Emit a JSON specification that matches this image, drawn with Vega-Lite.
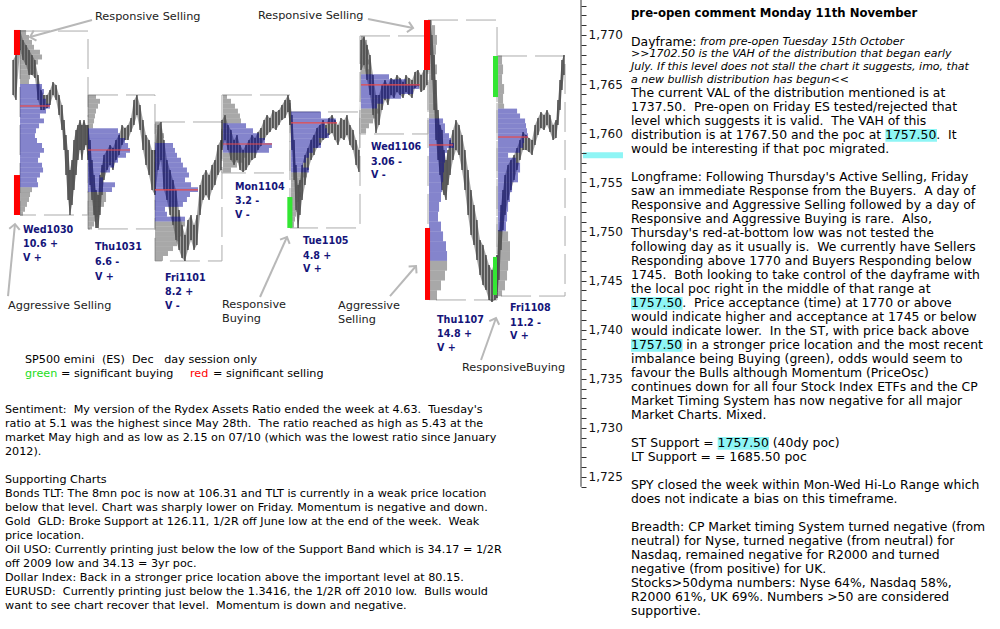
{
"$schema": "https://vega.github.io/schema/vega-lite/v6.json",
"width": 1000, "height": 629, "padding": 0, "autosize": {"type": "none"},
"background": "#ffffff",
"config": {"view": {"stroke": null}, "font": "DejaVu Sans"},
"datasets": {
"price": [
{"bar":-8.2,"lo":1763.89,"hi":1767.45},{"bar":-4.7,"lo":1763.38,"hi":1767.96},
{"bar":0,"lo":1768.47,"hi":1770.51},{"bar":3.5,"lo":1767.45,"hi":1769.49},{"bar":7.1,"lo":1766.94,"hi":1768.98},{"bar":10.6,"lo":1765.92,"hi":1768.47},{"bar":14.1,"lo":1765.92,"hi":1767.96},{"bar":17.6,"lo":1765.62,"hi":1767.45},{"bar":21.2,"lo":1763.38,"hi":1765.92},{"bar":24.7,"lo":1762.36,"hi":1764.40},{"bar":28.2,"lo":1762.36,"hi":1763.89},{"bar":31.8,"lo":1762.56,"hi":1763.89},{"bar":35.3,"lo":1762.87,"hi":1764.40},{"bar":38.8,"lo":1763.89,"hi":1765.21},{"bar":42.4,"lo":1763.38,"hi":1764.91},{"bar":45.9,"lo":1761.85,"hi":1763.89},{"bar":49.4,"lo":1760.32,"hi":1762.87},{"bar":51.8,"lo":1758.29,"hi":1761.34},{"bar":54.1,"lo":1755.74,"hi":1759.82},{"bar":56.5,"lo":1753.20,"hi":1758.29},{"bar":58.8,"lo":1751.67,"hi":1756.25},{"bar":61.2,"lo":1752.69,"hi":1757.27},{"bar":63.5,"lo":1754.22,"hi":1759.31},{"bar":65.9,"lo":1755.74,"hi":1760.32},{"bar":68.2,"lo":1757.27,"hi":1760.83},{"bar":70.6,"lo":1758.29,"hi":1761.34},{"bar":72.9,"lo":1757.27,"hi":1760.83},{"bar":75.3,"lo":1758.29,"hi":1761.34},{"bar":77.6,"lo":1758.80,"hi":1760.83},
{"bar":80,"lo":1757.27,"hi":1760.83},{"bar":82.4,"lo":1754.73,"hi":1759.31},{"bar":84.7,"lo":1753.20,"hi":1757.27},{"bar":87.1,"lo":1751.67,"hi":1755.74},{"bar":89.4,"lo":1750.35,"hi":1754.22},{"bar":91.8,"lo":1750.35,"hi":1753.71},{"bar":94.1,"lo":1751.67,"hi":1755.74},{"bar":96.5,"lo":1753.71,"hi":1756.76},{"bar":98.8,"lo":1755.23,"hi":1757.78},{"bar":102.4,"lo":1756.25,"hi":1758.29},{"bar":105.9,"lo":1756.76,"hi":1758.80},{"bar":109.4,"lo":1756.25,"hi":1758.49},{"bar":112.9,"lo":1757.27,"hi":1759.31},{"bar":116.5,"lo":1757.78,"hi":1759.82},{"bar":120,"lo":1758.80,"hi":1760.83},{"bar":123.5,"lo":1759.31,"hi":1760.53},{"bar":127.1,"lo":1759.31,"hi":1760.83},{"bar":130.6,"lo":1760.12,"hi":1761.55},{"bar":134.1,"lo":1760.83,"hi":1763.38},{"bar":137.6,"lo":1761.85,"hi":1763.89},{"bar":141.2,"lo":1760.32,"hi":1762.87},{"bar":144.7,"lo":1758.29,"hi":1761.34},{"bar":148.2,"lo":1756.76,"hi":1759.82},{"bar":151.8,"lo":1755.74,"hi":1759.31},{"bar":155.3,"lo":1754.22,"hi":1758.29},
{"bar":158.8,"lo":1753.71,"hi":1758.29},{"bar":162.4,"lo":1756.25,"hi":1760.83},{"bar":165.9,"lo":1757.27,"hi":1761.14},{"bar":169.4,"lo":1754.22,"hi":1759.31},{"bar":172.9,"lo":1753.20,"hi":1757.27},{"bar":176.5,"lo":1751.67,"hi":1756.25},{"bar":180,"lo":1750.65,"hi":1755.23},{"bar":183.5,"lo":1749.13,"hi":1754.22},{"bar":187.1,"lo":1748.11,"hi":1752.18},{"bar":190.6,"lo":1747.29,"hi":1750.65},{"bar":194.1,"lo":1746.99,"hi":1749.63},{"bar":197.6,"lo":1748.11,"hi":1751.16},{"bar":201.2,"lo":1749.13,"hi":1751.67},{"bar":204.7,"lo":1748.11,"hi":1750.65},{"bar":208.2,"lo":1748.62,"hi":1751.67},{"bar":211.8,"lo":1751.67,"hi":1754.73},{"bar":215.3,"lo":1753.20,"hi":1755.74},{"bar":218.8,"lo":1753.71,"hi":1756.25},{"bar":222.4,"lo":1753.20,"hi":1755.74},{"bar":225.9,"lo":1754.22,"hi":1756.76},{"bar":229.4,"lo":1754.73,"hi":1757.27},{"bar":232.9,"lo":1755.74,"hi":1758.80},{"bar":236.5,"lo":1756.25,"hi":1759.31},
{"bar":237.6,"lo":1758.29,"hi":1761.34},{"bar":241.2,"lo":1759.31,"hi":1761.85},{"bar":244.7,"lo":1758.29,"hi":1760.83},{"bar":248.2,"lo":1757.27,"hi":1760.32},{"bar":251.8,"lo":1756.76,"hi":1759.31},{"bar":255.3,"lo":1757.27,"hi":1759.82},{"bar":258.8,"lo":1756.25,"hi":1758.80},{"bar":262.4,"lo":1756.05,"hi":1758.29},{"bar":265.9,"lo":1756.25,"hi":1758.80},{"bar":269.4,"lo":1756.76,"hi":1759.31},{"bar":272.9,"lo":1757.27,"hi":1759.82},{"bar":276.5,"lo":1757.47,"hi":1759.51},{"bar":280,"lo":1758.29,"hi":1760.12},{"bar":283.5,"lo":1758.70,"hi":1760.53},{"bar":287.1,"lo":1759.31,"hi":1761.34},{"bar":290.6,"lo":1759.82,"hi":1761.85},{"bar":294.1,"lo":1760.12,"hi":1761.55},{"bar":297.6,"lo":1760.53,"hi":1762.36},{"bar":301.2,"lo":1760.32,"hi":1762.16},{"bar":304.7,"lo":1760.83,"hi":1762.36},{"bar":308.2,"lo":1761.34,"hi":1762.87},{"bar":311.8,"lo":1761.55,"hi":1763.38},{"bar":315.3,"lo":1762.16,"hi":1763.89},
{"bar":317.6,"lo":1760.83,"hi":1763.38},{"bar":320,"lo":1758.29,"hi":1761.85},{"bar":322.4,"lo":1755.23,"hi":1759.31},{"bar":324.7,"lo":1752.18,"hi":1756.76},{"bar":327.1,"lo":1750.35,"hi":1754.73},{"bar":329.4,"lo":1751.67,"hi":1755.23},{"bar":331.8,"lo":1753.20,"hi":1756.76},{"bar":335.3,"lo":1754.73,"hi":1757.78},{"bar":338.8,"lo":1756.25,"hi":1758.49},{"bar":342.4,"lo":1757.27,"hi":1759.31},{"bar":345.9,"lo":1757.78,"hi":1759.82},{"bar":349.4,"lo":1758.49,"hi":1760.53},{"bar":352.9,"lo":1758.80,"hi":1760.83},{"bar":356.5,"lo":1759.31,"hi":1761.34},{"bar":360,"lo":1759.51,"hi":1760.83},{"bar":363.5,"lo":1759.82,"hi":1761.55},{"bar":367.1,"lo":1760.02,"hi":1761.85},{"bar":370.6,"lo":1759.31,"hi":1761.34},{"bar":374.1,"lo":1758.80,"hi":1760.83},{"bar":377.6,"lo":1759.51,"hi":1761.55},{"bar":381.2,"lo":1759.31,"hi":1761.34},{"bar":384.7,"lo":1759.82,"hi":1761.85},{"bar":388.2,"lo":1758.80,"hi":1760.83},{"bar":391.8,"lo":1758.29,"hi":1760.32},{"bar":395.3,"lo":1756.76,"hi":1759.31},{"bar":398.8,"lo":1756.05,"hi":1758.29},
{"bar":401.2,"lo":1766.43,"hi":1769.49},{"bar":404.7,"lo":1766.94,"hi":1769.79},{"bar":408.2,"lo":1765.42,"hi":1768.98},{"bar":411.8,"lo":1763.89,"hi":1767.96},{"bar":415.3,"lo":1761.85,"hi":1765.92},{"bar":418.8,"lo":1760.02,"hi":1763.89},{"bar":422.4,"lo":1760.83,"hi":1763.89},{"bar":425.9,"lo":1762.36,"hi":1764.91},{"bar":429.4,"lo":1763.38,"hi":1765.42},{"bar":432.9,"lo":1762.87,"hi":1764.91},{"bar":436.5,"lo":1763.89,"hi":1765.62},{"bar":440,"lo":1763.58,"hi":1765.42},{"bar":443.5,"lo":1764.19,"hi":1765.92},{"bar":447.1,"lo":1763.89,"hi":1765.62},{"bar":450.6,"lo":1763.58,"hi":1765.21},{"bar":454.1,"lo":1764.19,"hi":1765.92},{"bar":457.6,"lo":1763.89,"hi":1765.62},{"bar":461.2,"lo":1763.58,"hi":1765.42},{"bar":464.7,"lo":1764.60,"hi":1766.23},{"bar":468.2,"lo":1764.80,"hi":1766.43},{"bar":471.8,"lo":1764.19,"hi":1765.92},{"bar":475.3,"lo":1764.40,"hi":1766.43},{"bar":478.8,"lo":1764.91,"hi":1766.94},
{"bar":480,"lo":1767.45,"hi":1771.01},{"bar":482.4,"lo":1767.96,"hi":1771.52},{"bar":484.7,"lo":1765.42,"hi":1770.00},{"bar":487.1,"lo":1762.36,"hi":1767.96},{"bar":489.4,"lo":1759.31,"hi":1765.42},{"bar":491.8,"lo":1757.27,"hi":1762.36},{"bar":494.1,"lo":1755.74,"hi":1760.83},{"bar":496.5,"lo":1754.22,"hi":1760.32},{"bar":498.8,"lo":1753.71,"hi":1758.29},{"bar":501.2,"lo":1753.20,"hi":1757.27},{"bar":503.5,"lo":1754.73,"hi":1758.29},{"bar":505.9,"lo":1755.74,"hi":1759.31},{"bar":509.4,"lo":1757.27,"hi":1760.32},{"bar":512.9,"lo":1758.29,"hi":1761.34},{"bar":516.5,"lo":1757.78,"hi":1760.83},{"bar":520,"lo":1756.25,"hi":1759.82},{"bar":523.5,"lo":1754.22,"hi":1758.29},{"bar":527.1,"lo":1751.67,"hi":1756.25},{"bar":530.6,"lo":1749.63,"hi":1754.22},{"bar":534.1,"lo":1748.62,"hi":1752.69},{"bar":537.6,"lo":1747.09,"hi":1751.16},{"bar":541.2,"lo":1745.56,"hi":1749.13},{"bar":544.7,"lo":1744.54,"hi":1748.62},{"bar":548.2,"lo":1744.04,"hi":1747.60},{"bar":551.8,"lo":1743.02,"hi":1746.58},{"bar":555.3,"lo":1742.81,"hi":1746.07},{"bar":558.8,"lo":1743.02,"hi":1747.09},
{"bar":561.2,"lo":1743.22,"hi":1747.60},{"bar":563.5,"lo":1745.05,"hi":1750.14},{"bar":565.9,"lo":1748.11,"hi":1752.69},{"bar":568.2,"lo":1750.14,"hi":1754.22},{"bar":570.6,"lo":1751.67,"hi":1755.74},{"bar":574.1,"lo":1753.20,"hi":1756.76},{"bar":577.6,"lo":1754.22,"hi":1757.27},{"bar":581.2,"lo":1755.23,"hi":1757.78},{"bar":584.7,"lo":1756.25,"hi":1758.49},{"bar":588.2,"lo":1757.27,"hi":1759.31},{"bar":591.8,"lo":1758.29,"hi":1760.12},{"bar":595.3,"lo":1758.29,"hi":1759.82},{"bar":598.8,"lo":1758.09,"hi":1759.51},{"bar":602.4,"lo":1757.78,"hi":1759.31},{"bar":605.9,"lo":1758.80,"hi":1760.83},{"bar":609.4,"lo":1759.82,"hi":1761.55},{"bar":612.9,"lo":1760.53,"hi":1762.16},{"bar":616.5,"lo":1760.32,"hi":1761.85},{"bar":620,"lo":1760.83,"hi":1762.36},{"bar":623.5,"lo":1760.12,"hi":1761.85},{"bar":627.1,"lo":1759.31,"hi":1760.83},{"bar":630.6,"lo":1759.51,"hi":1761.34},{"bar":632.9,"lo":1760.83,"hi":1763.38},{"bar":635.3,"lo":1762.36,"hi":1765.42},{"bar":637.6,"lo":1764.40,"hi":1767.45},{"bar":640,"lo":1765.92,"hi":1767.96}
],
"profile": [
{"s":0,"e":7.1,"lo":1770,"hi":1770.5,"z":"out"},{"s":0,"e":10.6,"lo":1769.5,"hi":1770,"z":"out"},{"s":0,"e":14.1,"lo":1769,"hi":1769.5,"z":"out"},{"s":0,"e":16.5,"lo":1768.5,"hi":1769,"z":"out"},{"s":0,"e":23.5,"lo":1768,"hi":1768.5,"z":"out"},{"s":0,"e":25.9,"lo":1767.5,"hi":1768,"z":"out"},{"s":0,"e":21.2,"lo":1767,"hi":1767.5,"z":"out"},{"s":0,"e":17.6,"lo":1766.5,"hi":1767,"z":"out"},{"s":0,"e":16.5,"lo":1766,"hi":1766.5,"z":"out"},{"s":0,"e":11.8,"lo":1765.5,"hi":1766,"z":"out"},{"s":0,"e":10.6,"lo":1765,"hi":1765.5,"z":"out"},
{"s":0,"e":25.9,"lo":1764.5,"hi":1765,"z":"va"},{"s":0,"e":28.2,"lo":1764,"hi":1764.5,"z":"va"},{"s":0,"e":27.1,"lo":1763.5,"hi":1764,"z":"va"},{"s":0,"e":30.6,"lo":1763,"hi":1763.5,"z":"va"},{"s":0,"e":35.3,"lo":1762.5,"hi":1763,"z":"va"},{"s":0,"e":30.6,"lo":1762,"hi":1762.5,"z":"va"},{"s":0,"e":23.5,"lo":1761.5,"hi":1762,"z":"va"},{"s":0,"e":28.2,"lo":1761,"hi":1761.5,"z":"va"},{"s":0,"e":22.4,"lo":1760.5,"hi":1761,"z":"va"},{"s":0,"e":18.8,"lo":1760,"hi":1760.5,"z":"va"},{"s":0,"e":17.6,"lo":1759.5,"hi":1760,"z":"va"},{"s":0,"e":20,"lo":1759,"hi":1759.5,"z":"va"},{"s":0,"e":25.9,"lo":1758.5,"hi":1759,"z":"va"},{"s":0,"e":28.2,"lo":1758,"hi":1758.5,"z":"va"},{"s":0,"e":23.5,"lo":1757.5,"hi":1758,"z":"va"},{"s":0,"e":21.2,"lo":1757,"hi":1757.5,"z":"va"},{"s":0,"e":25.9,"lo":1756.5,"hi":1757,"z":"va"},{"s":0,"e":27.1,"lo":1756,"hi":1756.5,"z":"va"},{"s":0,"e":23.5,"lo":1755.5,"hi":1756,"z":"va"},{"s":0,"e":20,"lo":1755,"hi":1755.5,"z":"va"},{"s":0,"e":21.2,"lo":1754.5,"hi":1755,"z":"va"},
{"s":0,"e":14.1,"lo":1754,"hi":1754.5,"z":"out"},{"s":0,"e":11.8,"lo":1753.5,"hi":1754,"z":"out"},{"s":0,"e":10.6,"lo":1753,"hi":1753.5,"z":"out"},{"s":0,"e":8.2,"lo":1752.5,"hi":1753,"z":"out"},{"s":0,"e":5.9,"lo":1752,"hi":1752.5,"z":"out"},{"s":0,"e":3.5,"lo":1751.6,"hi":1752,"z":"out"},
{"s":80,"e":89.4,"lo":1763.5,"hi":1763.9,"z":"out"},{"s":80,"e":94.1,"lo":1763,"hi":1763.5,"z":"out"},{"s":80,"e":91.8,"lo":1762.5,"hi":1763,"z":"out"},{"s":80,"e":89.4,"lo":1762,"hi":1762.5,"z":"out"},{"s":80,"e":88.2,"lo":1761.5,"hi":1762,"z":"out"},{"s":80,"e":87.1,"lo":1761,"hi":1761.5,"z":"out"},{"s":80,"e":85.9,"lo":1760.5,"hi":1761,"z":"out"},
{"s":80,"e":115.3,"lo":1760,"hi":1760.5,"z":"va"},{"s":80,"e":117.6,"lo":1759.5,"hi":1760,"z":"va"},{"s":80,"e":123.5,"lo":1759,"hi":1759.5,"z":"va"},{"s":80,"e":127.1,"lo":1758.5,"hi":1759,"z":"va"},{"s":80,"e":129.4,"lo":1758,"hi":1758.5,"z":"va"},{"s":80,"e":124.7,"lo":1757.5,"hi":1758,"z":"va"},{"s":80,"e":115.3,"lo":1757,"hi":1757.5,"z":"va"},{"s":80,"e":110.6,"lo":1756.5,"hi":1757,"z":"va"},{"s":80,"e":105.9,"lo":1756,"hi":1756.5,"z":"va"},{"s":80,"e":94.1,"lo":1755.5,"hi":1756,"z":"va"},{"s":80,"e":97.6,"lo":1755,"hi":1755.5,"z":"va"},{"s":80,"e":111.8,"lo":1754.5,"hi":1755,"z":"va"},{"s":80,"e":108.2,"lo":1754,"hi":1754.5,"z":"va"},
{"s":80,"e":101.2,"lo":1753.5,"hi":1754,"z":"out"},{"s":80,"e":101.2,"lo":1753,"hi":1753.5,"z":"out"},{"s":80,"e":98.8,"lo":1752.5,"hi":1753,"z":"out"},{"s":80,"e":94.1,"lo":1752,"hi":1752.5,"z":"out"},{"s":80,"e":91.8,"lo":1751.5,"hi":1752,"z":"out"},{"s":80,"e":89.4,"lo":1751,"hi":1751.5,"z":"out"},{"s":80,"e":87.1,"lo":1750.5,"hi":1751,"z":"out"},{"s":80,"e":84.7,"lo":1750.2,"hi":1750.5,"z":"out"},
{"s":158.8,"e":164.7,"lo":1760.5,"hi":1761.1,"z":"out"},{"s":158.8,"e":167,"lo":1760,"hi":1760.5,"z":"out"},{"s":158.8,"e":169.4,"lo":1759.5,"hi":1760,"z":"out"},{"s":158.8,"e":168.2,"lo":1759,"hi":1759.5,"z":"out"},
{"s":158.8,"e":180,"lo":1758.5,"hi":1759,"z":"va"},{"s":158.8,"e":182.3,"lo":1758,"hi":1758.5,"z":"va"},{"s":158.8,"e":184.7,"lo":1757.5,"hi":1758,"z":"va"},{"s":158.8,"e":189.4,"lo":1757,"hi":1757.5,"z":"va"},{"s":158.8,"e":191.7,"lo":1756.5,"hi":1757,"z":"va"},{"s":158.8,"e":196.4,"lo":1756,"hi":1756.5,"z":"va"},{"s":158.8,"e":198.8,"lo":1755.5,"hi":1756,"z":"va"},{"s":158.8,"e":194.1,"lo":1755,"hi":1755.5,"z":"va"},{"s":158.8,"e":201.2,"lo":1754.5,"hi":1755,"z":"va"},{"s":158.8,"e":209.4,"lo":1754,"hi":1754.5,"z":"va"},{"s":158.8,"e":200,"lo":1753.5,"hi":1754,"z":"va"},{"s":158.8,"e":196.4,"lo":1753,"hi":1753.5,"z":"va"},{"s":158.8,"e":191.7,"lo":1752.5,"hi":1753,"z":"va"},{"s":158.8,"e":170.6,"lo":1752,"hi":1752.5,"z":"va"},{"s":158.8,"e":172.9,"lo":1751.5,"hi":1752,"z":"va"},{"s":158.8,"e":194.1,"lo":1751,"hi":1751.5,"z":"va"},
{"s":158.8,"e":194.1,"lo":1750.5,"hi":1751,"z":"out"},{"s":158.8,"e":191.7,"lo":1750,"hi":1750.5,"z":"out"},{"s":158.8,"e":190.6,"lo":1749.5,"hi":1750,"z":"out"},{"s":158.8,"e":188.2,"lo":1749,"hi":1749.5,"z":"out"},{"s":158.8,"e":184.7,"lo":1748.5,"hi":1749,"z":"out"},{"s":158.8,"e":180,"lo":1748,"hi":1748.5,"z":"out"},{"s":158.8,"e":174.1,"lo":1747.5,"hi":1748,"z":"out"},{"s":158.8,"e":168.2,"lo":1747,"hi":1747.5,"z":"out"},
{"s":238.8,"e":243.5,"lo":1763.5,"hi":1763.9,"z":"out"},{"s":238.8,"e":248.2,"lo":1763,"hi":1763.5,"z":"out"},{"s":238.8,"e":252.9,"lo":1762.5,"hi":1763,"z":"out"},{"s":238.8,"e":256.4,"lo":1762,"hi":1762.5,"z":"out"},{"s":238.8,"e":258.8,"lo":1761.5,"hi":1762,"z":"out"},{"s":238.8,"e":260,"lo":1761,"hi":1761.5,"z":"out"},
{"s":238.8,"e":265.9,"lo":1760.5,"hi":1761,"z":"va"},{"s":238.8,"e":274.1,"lo":1760,"hi":1760.5,"z":"va"},{"s":238.8,"e":281.2,"lo":1759.5,"hi":1760,"z":"va"},{"s":238.8,"e":288.2,"lo":1759,"hi":1759.5,"z":"va"},{"s":238.8,"e":296.4,"lo":1758.5,"hi":1759,"z":"va"},{"s":238.8,"e":292.9,"lo":1758,"hi":1758.5,"z":"va"},
{"s":238.8,"e":267,"lo":1757.5,"hi":1758,"z":"out"},{"s":238.8,"e":262.3,"lo":1757,"hi":1757.5,"z":"out"},{"s":238.8,"e":255.3,"lo":1756.5,"hi":1757,"z":"out"},{"s":238.8,"e":248.2,"lo":1756,"hi":1756.5,"z":"out"},
{"s":318.8,"e":354.1,"lo":1761.5,"hi":1762.2,"z":"va"},{"s":318.8,"e":371.7,"lo":1761,"hi":1761.5,"z":"va"},{"s":318.8,"e":358.8,"lo":1760.5,"hi":1761,"z":"va"},{"s":318.8,"e":361.2,"lo":1760,"hi":1760.5,"z":"va"},{"s":318.8,"e":363.5,"lo":1759.5,"hi":1760,"z":"va"},{"s":318.8,"e":351.7,"lo":1759,"hi":1759.5,"z":"va"},{"s":318.8,"e":354.1,"lo":1758.5,"hi":1759,"z":"va"},{"s":318.8,"e":344.7,"lo":1758,"hi":1758.5,"z":"va"},{"s":318.8,"e":340,"lo":1757.5,"hi":1758,"z":"va"},{"s":318.8,"e":336.4,"lo":1757,"hi":1757.5,"z":"va"},{"s":318.8,"e":332.9,"lo":1756.5,"hi":1757,"z":"va"},{"s":318.8,"e":340,"lo":1756,"hi":1756.5,"z":"va"},
{"s":318.8,"e":337.6,"lo":1755.5,"hi":1756,"z":"out"},{"s":318.8,"e":332.9,"lo":1755,"hi":1755.5,"z":"out"},{"s":318.8,"e":330.6,"lo":1754.5,"hi":1755,"z":"out"},{"s":318.8,"e":328.2,"lo":1754,"hi":1754.5,"z":"out"},{"s":318.8,"e":330.6,"lo":1753.5,"hi":1754,"z":"out"},{"s":318.8,"e":328.2,"lo":1753,"hi":1753.5,"z":"out"},{"s":318.8,"e":325.9,"lo":1752.5,"hi":1753,"z":"out"},{"s":318.8,"e":325.9,"lo":1752,"hi":1752.5,"z":"out"},{"s":318.8,"e":324.7,"lo":1751.5,"hi":1752,"z":"out"},{"s":318.8,"e":323.5,"lo":1751,"hi":1751.5,"z":"out"},{"s":318.8,"e":322.3,"lo":1750.4,"hi":1751,"z":"out"},
{"s":401.2,"e":405.9,"lo":1769.5,"hi":1769.9,"z":"out"},{"s":401.2,"e":408.3,"lo":1769,"hi":1769.5,"z":"out"},{"s":401.2,"e":409.4,"lo":1768.5,"hi":1769,"z":"out"},{"s":401.2,"e":410.6,"lo":1768,"hi":1768.5,"z":"out"},{"s":401.2,"e":409.4,"lo":1767.5,"hi":1768,"z":"out"},{"s":401.2,"e":410.6,"lo":1767,"hi":1767.5,"z":"out"},{"s":401.2,"e":408.3,"lo":1766.5,"hi":1767,"z":"out"},{"s":401.2,"e":410.6,"lo":1766,"hi":1766.5,"z":"out"},
{"s":401.2,"e":434.1,"lo":1765.5,"hi":1766,"z":"va"},{"s":401.2,"e":454.1,"lo":1765,"hi":1765.5,"z":"va"},{"s":401.2,"e":469.4,"lo":1764.5,"hi":1765,"z":"va"},{"s":401.2,"e":462.4,"lo":1764,"hi":1764.5,"z":"va"},{"s":401.2,"e":448.3,"lo":1763.5,"hi":1764,"z":"va"},{"s":401.2,"e":427.1,"lo":1763,"hi":1763.5,"z":"va"},{"s":401.2,"e":420,"lo":1762.5,"hi":1763,"z":"va"},
{"s":401.2,"e":422.4,"lo":1762,"hi":1762.5,"z":"out"},{"s":401.2,"e":418.8,"lo":1761.5,"hi":1762,"z":"out"},{"s":401.2,"e":415.3,"lo":1761,"hi":1761.5,"z":"out"},{"s":401.2,"e":410.6,"lo":1760.5,"hi":1761,"z":"out"},{"s":401.2,"e":407.1,"lo":1760,"hi":1760.5,"z":"out"},
{"s":481.2,"e":484.7,"lo":1771,"hi":1771.5,"z":"out"},{"s":481.2,"e":488.3,"lo":1770,"hi":1771,"z":"out"},{"s":481.2,"e":490.6,"lo":1769,"hi":1770,"z":"out"},{"s":481.2,"e":489.4,"lo":1768,"hi":1769,"z":"out"},{"s":481.2,"e":488.3,"lo":1767,"hi":1768,"z":"out"},{"s":481.2,"e":490.6,"lo":1766,"hi":1767,"z":"out"},{"s":481.2,"e":488.3,"lo":1765,"hi":1766,"z":"out"},{"s":481.2,"e":489.4,"lo":1764,"hi":1765,"z":"out"},{"s":481.2,"e":487.1,"lo":1763,"hi":1764,"z":"out"},{"s":481.2,"e":490.6,"lo":1762,"hi":1763,"z":"out"},{"s":481.2,"e":488.3,"lo":1761.5,"hi":1762,"z":"out"},
{"s":481.2,"e":497.7,"lo":1761,"hi":1761.5,"z":"va"},{"s":481.2,"e":500,"lo":1760,"hi":1761,"z":"va"},{"s":481.2,"e":504.7,"lo":1759.5,"hi":1760,"z":"va"},{"s":481.2,"e":507.1,"lo":1759,"hi":1759.5,"z":"va"},{"s":481.2,"e":510.6,"lo":1758.5,"hi":1759,"z":"va"},{"s":481.2,"e":502.4,"lo":1758,"hi":1758.5,"z":"va"},{"s":481.2,"e":500,"lo":1757,"hi":1758,"z":"va"},{"s":481.2,"e":498.8,"lo":1756,"hi":1757,"z":"va"},{"s":481.2,"e":497.7,"lo":1755,"hi":1756,"z":"va"},{"s":481.2,"e":496.5,"lo":1754,"hi":1755,"z":"va"},{"s":481.2,"e":495.3,"lo":1753,"hi":1754,"z":"va"},{"s":481.2,"e":493,"lo":1752,"hi":1753,"z":"va"},{"s":481.2,"e":491.8,"lo":1751,"hi":1752,"z":"va"},{"s":481.2,"e":495.3,"lo":1750,"hi":1751,"z":"va"},{"s":481.2,"e":497.7,"lo":1749,"hi":1750,"z":"va"},{"s":481.2,"e":501.2,"lo":1748,"hi":1749,"z":"va"},{"s":481.2,"e":502.4,"lo":1747,"hi":1748,"z":"va"},
{"s":481.2,"e":502.4,"lo":1746,"hi":1747,"z":"out"},{"s":481.2,"e":500,"lo":1745,"hi":1746,"z":"out"},{"s":481.2,"e":495.3,"lo":1744,"hi":1745,"z":"out"},{"s":481.2,"e":490.6,"lo":1743,"hi":1744,"z":"out"},
{"s":562.4,"e":567.1,"lo":1767,"hi":1767.9,"z":"out"},{"s":562.4,"e":568.3,"lo":1766,"hi":1767,"z":"out"},{"s":562.4,"e":567.1,"lo":1765,"hi":1766,"z":"out"},{"s":562.4,"e":569.5,"lo":1764,"hi":1765,"z":"out"},{"s":562.4,"e":568.3,"lo":1763,"hi":1764,"z":"out"},{"s":562.4,"e":569.5,"lo":1762.5,"hi":1763,"z":"out"},
{"s":562.4,"e":584.8,"lo":1762,"hi":1762.5,"z":"va"},{"s":562.4,"e":588.3,"lo":1761.5,"hi":1762,"z":"va"},{"s":562.4,"e":594.2,"lo":1761,"hi":1761.5,"z":"va"},{"s":562.4,"e":595.3,"lo":1760.5,"hi":1761,"z":"va"},{"s":562.4,"e":596.5,"lo":1760,"hi":1760.5,"z":"va"},{"s":562.4,"e":597.7,"lo":1759.5,"hi":1760,"z":"va"},{"s":562.4,"e":593,"lo":1759,"hi":1759.5,"z":"va"},{"s":562.4,"e":591.8,"lo":1758.5,"hi":1759,"z":"va"},{"s":562.4,"e":588.3,"lo":1758,"hi":1758.5,"z":"va"},{"s":562.4,"e":574.2,"lo":1757.5,"hi":1758,"z":"va"},{"s":562.4,"e":583.6,"lo":1757,"hi":1757.5,"z":"va"},{"s":562.4,"e":588.3,"lo":1756,"hi":1757,"z":"va"},{"s":562.4,"e":585.9,"lo":1755,"hi":1756,"z":"va"},{"s":562.4,"e":578.9,"lo":1754,"hi":1755,"z":"va"},{"s":562.4,"e":576.5,"lo":1753,"hi":1754,"z":"va"},{"s":562.4,"e":574.2,"lo":1752,"hi":1753,"z":"va"},{"s":562.4,"e":573,"lo":1751,"hi":1752,"z":"va"},{"s":562.4,"e":571.8,"lo":1750,"hi":1751,"z":"va"},
{"s":562.4,"e":574.2,"lo":1749,"hi":1750,"z":"out"},{"s":562.4,"e":576.5,"lo":1748,"hi":1749,"z":"out"},{"s":562.4,"e":576.5,"lo":1747,"hi":1748,"z":"out"},{"s":562.4,"e":574.2,"lo":1746,"hi":1747,"z":"out"},{"s":562.4,"e":573,"lo":1745,"hi":1746,"z":"out"},{"s":562.4,"e":570.6,"lo":1744,"hi":1745,"z":"out"},{"s":562.4,"e":567.1,"lo":1743.4,"hi":1744,"z":"out"}
],
"poc": [
{"s":0,"e":35.3,"p":1762.77},{"s":80,"e":129.4,"p":1758.29},{"s":158.8,"e":209.4,"p":1754.22},{"s":238.8,"e":296.5,"p":1758.9},{"s":318.8,"e":372.9,"p":1761.04},{"s":401.2,"e":470.6,"p":1764.91},{"s":481.2,"e":509.4,"p":1758.8},{"s":562.4,"e":597.6,"p":1759.61}
],
"sig": [
{"s":-7.1,"e":0,"lo":1767.96,"hi":1770.51,"k":"sell"},{"s":-7.1,"e":0,"lo":1751.67,"hi":1755.74,"k":"sell"},{"s":314.5,"e":320.5,"lo":1750.35,"hi":1753.5,"k":"buy"},{"s":475.3,"e":482.4,"lo":1766.43,"hi":1771.52,"k":"sell"},{"s":476.5,"e":482.4,"lo":1743.02,"hi":1750.35,"k":"sell"},{"s":556.5,"e":562.4,"lo":1763.68,"hi":1767.86,"k":"buy"},{"s":556.5,"e":561.2,"lo":1743.53,"hi":1747.4,"k":"buy"}
],
"box": [
{"s":0,"e":80,"lo":1751.67,"hi":1770.4},{"s":80,"e":158.8,"lo":1750.25,"hi":1763.89},{"s":158.8,"e":237.6,"lo":1746.99,"hi":1761.14},{"s":237.6,"e":317.6,"lo":1755.95,"hi":1763.89},{"s":317.6,"e":400,"lo":1750.35,"hi":1762.16},{"s":400,"e":480,"lo":1759.92,"hi":1769.9},{"s":480,"e":561.2,"lo":1743.02,"hi":1771.52},{"s":561.2,"e":641.2,"lo":1743.42,"hi":1767.86}
],
"marker": [{"s":662.4,"e":709.4,"lo":1757.45,"hi":1758.05}],
"notes": [
{"bar":88.2,"p":1771.83,"t":"Responsive Selling"},{"bar":280,"p":1771.93,"t":"Responsive Selling"},{"bar":-14.1,"p":1742.41,"t":"Aggressive Selling"},{"bar":237.6,"p":1742.51,"t":"Responsive"},{"bar":237.6,"p":1741.08,"t":"Buying"},{"bar":374.1,"p":1742.41,"t":"Aggressive"},{"bar":374.1,"p":1740.98,"t":"Selling"},{"bar":520,"p":1736.09,"t":"ResponsiveBuying"}
],
"days": [
{"bar":3.5,"p":1750.14,"t":"Wed1030"},{"bar":3.5,"p":1748.72,"t":"10.6 +"},{"bar":3.5,"p":1747.29,"t":"V +"},
{"bar":88.2,"p":1748.41,"t":"Thu1031"},{"bar":88.2,"p":1746.88,"t":"6.6 -"},{"bar":88.2,"p":1745.36,"t":"V +"},
{"bar":170.6,"p":1745.26,"t":"Fri1101"},{"bar":170.6,"p":1743.83,"t":"8.2 +"},{"bar":170.6,"p":1742.41,"t":"V -"},
{"bar":252.9,"p":1754.52,"t":"Mon1104"},{"bar":252.9,"p":1753.10,"t":"3.2 -"},{"bar":252.9,"p":1751.67,"t":"V -"},
{"bar":332.9,"p":1749.02,"t":"Tue1105"},{"bar":332.9,"p":1747.50,"t":"4.8 +"},{"bar":332.9,"p":1746.17,"t":"V +"},
{"bar":412.9,"p":1758.59,"t":"Wed1106"},{"bar":412.9,"p":1757.07,"t":"3.06 -"},{"bar":412.9,"p":1755.74,"t":"V -"},
{"bar":490.6,"p":1740.98,"t":"Thu1107"},{"bar":490.6,"p":1739.56,"t":"14.8 +"},{"bar":490.6,"p":1738.13,"t":"V +"},
{"bar":576.5,"p":1742.20,"t":"Fri1108"},{"bar":576.5,"p":1740.68,"t":"11.2 -"},{"bar":576.5,"p":1739.35,"t":"V +"}
],
"arrows": [
{"id":1,"xa":84.7,"ya":1771.52,"xb":11.8,"yb":1769.79},{"id":2,"xa":409.4,"ya":1771.63,"xb":462.4,"yb":1770.71},{"id":3,"xa":-14.1,"ya":1743.42,"xb":-5.9,"yb":1750.75},{"id":4,"xa":282.4,"ya":1743.32,"xb":314.1,"yb":1749.43},{"id":5,"xa":435.3,"ya":1743.42,"xb":465.9,"yb":1746.48},{"id":6,"xa":542.4,"ya":1736.91,"xb":560,"yb":1741.18}
],
"axisline": [{"x":660,"lo":1724,"hi":1773.56}],
"right": [
{"r":0.25,"c":0,"part":"title","t":"pre-open comment Monday 11th November"},
{"r":2.3,"c":0,"part":"body","t":"Dayframe:"},
{"r":2.3,"c":11.5,"part":"quote","t":"from pre-open Tuesday 15th October"},
{"r":3.2,"c":0,"part":"quote","t":">>1702.50 is the VAH of the distribution that began early"},
{"r":4.1,"c":0,"part":"quote","t":"July. If this level does not stall the chart it suggests, imo, that"},
{"r":5.05,"c":0,"part":"quote","t":"a new bullish distribution has begun<<"},
{"r":6,"c":0,"part":"body","t":"The current VAL of the distribution mentioned is at"},
{"r":7,"c":0,"part":"body","t":"1737.50.\u00a0 Pre-open on Friday ES tested/rejected that"},
{"r":8,"c":0,"part":"body","t":"level which suggests it is valid.\u00a0 The VAH of this"},
{"r":9,"c":0,"part":"body","t":"distribution is at 1767.50 and the poc at 1757.50.\u00a0 It"},
{"r":10,"c":0,"part":"body","t":"would be interesting if that poc migrated."},
{"r":12,"c":0,"part":"body","t":"Longframe: Following Thursday's Active Selling, Friday"},
{"r":13,"c":0,"part":"body","t":"saw an immediate Response from the Buyers.\u00a0 A day of"},
{"r":14,"c":0,"part":"body","t":"Responsive and Aggressive Selling followed by a day of"},
{"r":15,"c":0,"part":"body","t":"Responsive and Aggressive Buying is rare.\u00a0 Also,"},
{"r":16,"c":0,"part":"body","t":"Thursday's red-at-bottom low was not tested the"},
{"r":17,"c":0,"part":"body","t":"following day as it usually is.\u00a0 We currently have Sellers"},
{"r":18,"c":0,"part":"body","t":"Responding above 1770 and Buyers Responding below"},
{"r":19,"c":0,"part":"body","t":"1745.\u00a0 Both looking to take control of the dayframe with"},
{"r":20,"c":0,"part":"body","t":"the local poc right in the middle of that range at"},
{"r":21,"c":0,"part":"body","t":"1757.50.\u00a0 Price acceptance (time) at 1770 or above"},
{"r":22,"c":0,"part":"body","t":"would indicate higher and acceptance at 1745 or below"},
{"r":23,"c":0,"part":"body","t":"would indicate lower.\u00a0 In the ST, with price back above"},
{"r":24,"c":0,"part":"body","t":"1757.50 in a stronger price location and the most recent"},
{"r":25,"c":0,"part":"body","t":"imbalance being Buying (green), odds would seem to"},
{"r":26,"c":0,"part":"body","t":"favour the Bulls although Momentum (PriceOsc)"},
{"r":27,"c":0,"part":"body","t":"continues down for all four Stock Index ETFs and the CP"},
{"r":28,"c":0,"part":"body","t":"Market Timing System has now negative for all major"},
{"r":29,"c":0,"part":"body","t":"Market Charts. Mixed."},
{"r":31,"c":0,"part":"body","t":"ST Support = 1757.50 (40dy poc)"},
{"r":32,"c":0,"part":"body","t":"LT Support = = 1685.50 poc"},
{"r":34,"c":0,"part":"body","t":"SPY closed the week within Mon-Wed Hi-Lo Range which"},
{"r":35,"c":0,"part":"body","t":"does not indicate a bias on this timeframe."},
{"r":37,"c":0,"part":"body","t":"Breadth: CP Market timing System turned negative (from"},
{"r":38,"c":0,"part":"body","t":"neutral) for Nyse, turned negative (from neutral) for"},
{"r":39,"c":0,"part":"body","t":"Nasdaq, remained negative for R2000 and turned"},
{"r":40,"c":0,"part":"body","t":"negative (from positive) for UK."},
{"r":41,"c":0,"part":"body","t":"Stocks>50dyma numbers: Nyse 64%, Nasdaq 58%,"},
{"r":42,"c":0,"part":"body","t":"R2000 61%, UK 69%. Numbers >50 are considered"},
{"r":43,"c":0,"part":"body","t":"supportive."}
],
"rightHl": [
{"c0":42.4,"c1":51.0,"r0":8.55,"r1":9.45},{"c0":0,"c1":8.6,"r0":20.55,"r1":21.45},{"c0":0,"c1":8.6,"r0":23.55,"r1":24.45},{"c0":14.45,"c1":23.0,"r0":30.55,"r1":31.45}
],
"left": [
{"r":25.43,"c":3.33,"part":"body","t":"SP500 emini\u00a0 (ES)\u00a0 Dec\u00a0\u00a0 day session only"},
{"r":26.43,"c":3.33,"part":"buy","t":"green"},
{"r":26.43,"c":9.33,"part":"body","t":"= significant buying"},
{"r":26.43,"c":30.83,"part":"sell","t":"red"},
{"r":26.43,"c":34.67,"part":"body","t":"= significant selling"},
{"r":29,"c":0,"part":"body","t":"Sentiment:\u00a0 My version of the Rydex Assets Ratio ended the week at 4.63.\u00a0 Tuesday's"},
{"r":30,"c":0,"part":"body","t":"ratio at 5.1 was the highest since May 28th.\u00a0 The ratio reached as high as 5.43 at the"},
{"r":31,"c":0,"part":"body","t":"market May high and as low as 2.15 on 07/10 (which was the lowest ratio since January"},
{"r":32,"c":0,"part":"body","t":"2012)."},
{"r":34,"c":0,"part":"body","t":"Supporting Charts"},
{"r":35,"c":0,"part":"body","t":"Bonds TLT: The 8mn poc is now at 106.31 and TLT is currently in a weak price location"},
{"r":36,"c":0,"part":"body","t":"below that level. Chart was sharply lower on Friday. Momentum is negative and down."},
{"r":37,"c":0,"part":"body","t":"Gold\u00a0 GLD: Broke Support at 126.11, 1/2R off June low at the end of the week.\u00a0 Weak"},
{"r":38,"c":0,"part":"body","t":"price location."},
{"r":39,"c":0,"part":"body","t":"Oil USO: Currently printing just below the low of the Support Band which is 34.17 = 1/2R"},
{"r":40,"c":0,"part":"body","t":"off 2009 low and 34.13 = 3yr poc."},
{"r":41,"c":0,"part":"body","t":"Dollar Index: Back in a stronger price location above the important level at 80.15."},
{"r":42,"c":0,"part":"body","t":"EURUSD:\u00a0 Currently printing just below the 1.3416, the 1/2R off 2010 low.\u00a0 Bulls would"},
{"r":43,"c":0,"part":"body","t":"want to see chart recover that level.\u00a0 Momentum is down and negative."}
]
},
"layer": [
{"data": {"name": "axisline"}, "mark": {"type": "rule", "color": "#333333", "strokeWidth": 1},
 "encoding": {"x": {"field": "x", "type": "quantitative", "scale": {"domain": [-23.53, 1152.94], "nice": false, "zero": false}, "axis": null},
  "y": {"field": "lo", "type": "quantitative", "scale": {"domain": [1709.52, 1773.56], "nice": false, "zero": false},
   "axis": {"orient": "right", "offset": -419, "title": null, "domain": false, "grid": false, "zindex": 1,
    "values": [1724,1725,1726,1727,1728,1729,1730,1731,1732,1733,1734,1735,1736,1737,1738,1739,1740,1741,1742,1743,1744,1745,1746,1747,1748,1749,1750,1751,1752,1753,1754,1755,1756,1757,1758,1759,1760,1761,1762,1763,1764,1765,1766,1767,1768,1769,1770,1771,1772,1773],
    "format": ",", "labelExpr": "datum.value % 5 === 0 ? datum.label : ''", "labelOverlap": false, "labelFlush": false,
    "tickSize": 5, "tickColor": "#333333", "labelPadding": 2, "labelFont": "DejaVu Sans", "labelFontSize": 12, "labelColor": "#111111", "labelBaseline": "middle"}},
  "y2": {"field": "hi"}}},
{"data": {"name": "box"}, "mark": {"type": "rect", "filled": false, "color": "#ababab", "strokeWidth": 1, "strokeDash": [30, 8]},
 "encoding": {"x": {"field": "s", "type": "quantitative", "scale": {"domain": [-23.53, 1152.94], "nice": false, "zero": false}, "axis": null}, "x2": {"field": "e"},
  "y": {"field": "lo", "type": "quantitative", "scale": {"domain": [1709.52, 1773.56], "nice": false, "zero": false}, "axis": null}, "y2": {"field": "hi"}}},
{"data": {"name": "price"}, "mark": {"type": "area", "color": "#555555", "opacity": 0.55},
 "encoding": {"x": {"field": "bar", "type": "quantitative", "scale": {"domain": [-23.53, 1152.94], "nice": false, "zero": false}, "axis": null},
  "y": {"field": "lo", "type": "quantitative", "scale": {"domain": [1709.52, 1773.56], "nice": false, "zero": false}, "axis": null}, "y2": {"field": "hi"}}},
{"data": {"name": "price"}, "mark": {"type": "rule", "color": "#1e1e1e", "strokeWidth": 1.1},
 "encoding": {"x": {"field": "bar", "type": "quantitative", "scale": {"domain": [-23.53, 1152.94], "nice": false, "zero": false}, "axis": null},
  "y": {"field": "lo", "type": "quantitative", "scale": {"domain": [1709.52, 1773.56], "nice": false, "zero": false}, "axis": null}, "y2": {"field": "hi"}}},
{"data": {"name": "profile"}, "mark": {"type": "rect", "opacity": 0.5},
 "encoding": {"x": {"field": "s", "type": "quantitative", "scale": {"domain": [-23.53, 1152.94], "nice": false, "zero": false}, "axis": null}, "x2": {"field": "e"},
  "y": {"field": "lo", "type": "quantitative", "scale": {"domain": [1709.52, 1773.56], "nice": false, "zero": false}, "axis": null}, "y2": {"field": "hi"},
  "color": {"field": "z", "type": "nominal", "scale": {"domain": ["va", "out"], "range": ["#0a0a9a", "#525252"]}, "legend": null}}},
{"data": {"name": "poc"}, "mark": {"type": "rule", "color": "#e84a4a", "strokeWidth": 1.2},
 "encoding": {"x": {"field": "s", "type": "quantitative", "scale": {"domain": [-23.53, 1152.94], "nice": false, "zero": false}, "axis": null}, "x2": {"field": "e"},
  "y": {"field": "p", "type": "quantitative", "scale": {"domain": [1709.52, 1773.56], "nice": false, "zero": false}, "axis": null}}},
{"data": {"name": "sig"}, "mark": {"type": "rect"},
 "encoding": {"x": {"field": "s", "type": "quantitative", "scale": {"domain": [-23.53, 1152.94], "nice": false, "zero": false}, "axis": null}, "x2": {"field": "e"},
  "y": {"field": "lo", "type": "quantitative", "scale": {"domain": [1709.52, 1773.56], "nice": false, "zero": false}, "axis": null}, "y2": {"field": "hi"},
  "color": {"field": "k", "type": "nominal", "scale": {"domain": ["sell", "buy"], "range": ["#ff0000", "#33e633"]}, "legend": null}}},
{"data": {"name": "marker"}, "mark": {"type": "rect", "color": "#8ef5f5"},
 "encoding": {"x": {"field": "s", "type": "quantitative", "scale": {"domain": [-23.53, 1152.94], "nice": false, "zero": false}, "axis": null}, "x2": {"field": "e"},
  "y": {"field": "lo", "type": "quantitative", "scale": {"domain": [1709.52, 1773.56], "nice": false, "zero": false}, "axis": null}, "y2": {"field": "hi"}}},
{"data": {"name": "arrows"}, "mark": {"type": "rule", "color": "#b8b8b8", "strokeWidth": 2},
 "encoding": {"x": {"field": "xa", "type": "quantitative", "scale": {"domain": [-23.53, 1152.94], "nice": false, "zero": false}, "axis": null}, "x2": {"field": "xb"},
  "y": {"field": "ya", "type": "quantitative", "scale": {"domain": [1709.52, 1773.56], "nice": false, "zero": false}, "axis": null}, "y2": {"field": "yb"}}},
{"data": {"name": "arrows"}, "transform": [{"filter": "datum.id === 1"}], "mark": {"type": "point", "shape": "M-1,1L0,0L1,1", "angle": 254.7, "size": 110, "filled": false, "stroke": "#b8b8b8", "strokeWidth": 2, "opacity": 1},
 "encoding": {"x": {"field": "xb", "type": "quantitative", "scale": {"domain": [-23.53, 1152.94], "nice": false, "zero": false}, "axis": null}, "y": {"field": "yb", "type": "quantitative", "scale": {"domain": [1709.52, 1773.56], "nice": false, "zero": false}, "axis": null}}},
{"data": {"name": "arrows"}, "transform": [{"filter": "datum.id === 2"}], "mark": {"type": "point", "shape": "M-1,1L0,0L1,1", "angle": 101.3, "size": 110, "filled": false, "stroke": "#b8b8b8", "strokeWidth": 2, "opacity": 1},
 "encoding": {"x": {"field": "xb", "type": "quantitative", "scale": {"domain": [-23.53, 1152.94], "nice": false, "zero": false}, "axis": null}, "y": {"field": "yb", "type": "quantitative", "scale": {"domain": [1709.52, 1773.56], "nice": false, "zero": false}, "axis": null}}},
{"data": {"name": "arrows"}, "transform": [{"filter": "datum.id === 3"}], "mark": {"type": "point", "shape": "M-1,1L0,0L1,1", "angle": 5.6, "size": 110, "filled": false, "stroke": "#b8b8b8", "strokeWidth": 2, "opacity": 1},
 "encoding": {"x": {"field": "xb", "type": "quantitative", "scale": {"domain": [-23.53, 1152.94], "nice": false, "zero": false}, "axis": null}, "y": {"field": "yb", "type": "quantitative", "scale": {"domain": [1709.52, 1773.56], "nice": false, "zero": false}, "axis": null}}},
{"data": {"name": "arrows"}, "transform": [{"filter": "datum.id === 4"}], "mark": {"type": "point", "shape": "M-1,1L0,0L1,1", "angle": 23.9, "size": 110, "filled": false, "stroke": "#b8b8b8", "strokeWidth": 2, "opacity": 1},
 "encoding": {"x": {"field": "xb", "type": "quantitative", "scale": {"domain": [-23.53, 1152.94], "nice": false, "zero": false}, "axis": null}, "y": {"field": "yb", "type": "quantitative", "scale": {"domain": [1709.52, 1773.56], "nice": false, "zero": false}, "axis": null}}},
{"data": {"name": "arrows"}, "transform": [{"filter": "datum.id === 5"}], "mark": {"type": "point", "shape": "M-1,1L0,0L1,1", "angle": 40.9, "size": 110, "filled": false, "stroke": "#b8b8b8", "strokeWidth": 2, "opacity": 1},
 "encoding": {"x": {"field": "xb", "type": "quantitative", "scale": {"domain": [-23.53, 1152.94], "nice": false, "zero": false}, "axis": null}, "y": {"field": "yb", "type": "quantitative", "scale": {"domain": [1709.52, 1773.56], "nice": false, "zero": false}, "axis": null}}},
{"data": {"name": "arrows"}, "transform": [{"filter": "datum.id === 6"}], "mark": {"type": "point", "shape": "M-1,1L0,0L1,1", "angle": 19.7, "size": 110, "filled": false, "stroke": "#b8b8b8", "strokeWidth": 2, "opacity": 1},
 "encoding": {"x": {"field": "xb", "type": "quantitative", "scale": {"domain": [-23.53, 1152.94], "nice": false, "zero": false}, "axis": null}, "y": {"field": "yb", "type": "quantitative", "scale": {"domain": [1709.52, 1773.56], "nice": false, "zero": false}, "axis": null}}},
{"data": {"name": "notes"}, "mark": {"type": "text", "align": "left", "baseline": "middle", "fontSize": 11.3, "color": "#222222", "font": "DejaVu Sans"},
 "encoding": {"x": {"field": "bar", "type": "quantitative", "scale": {"domain": [-23.53, 1152.94], "nice": false, "zero": false}, "axis": null},
  "y": {"field": "p", "type": "quantitative", "scale": {"domain": [1709.52, 1773.56], "nice": false, "zero": false}, "axis": null}, "text": {"field": "t"}}},
{"data": {"name": "days"}, "mark": {"type": "text", "align": "left", "baseline": "middle", "fontSize": 9.6, "fontWeight": "bold", "color": "#15157a", "font": "DejaVu Sans"},
 "encoding": {"x": {"field": "bar", "type": "quantitative", "scale": {"domain": [-23.53, 1152.94], "nice": false, "zero": false}, "axis": null},
  "y": {"field": "p", "type": "quantitative", "scale": {"domain": [1709.52, 1773.56], "nice": false, "zero": false}, "axis": null}, "text": {"field": "t"}}},
{"data": {"name": "rightHl"}, "mark": {"type": "rect", "color": "#8ef5f5"},
 "encoding": {"x": {"field": "c0", "type": "quantitative", "scale": {"domain": [0, 60], "range": [631, 991], "nice": false, "zero": false}, "axis": null}, "x2": {"field": "c1"},
  "y": {"field": "r0", "type": "quantitative", "scale": {"domain": [0, 45], "range": [9.4, 639.4], "nice": false, "zero": false}, "axis": null}, "y2": {"field": "r1"}}},
{"data": {"name": "right"}, "transform": [{"filter": "datum.part === 'body'"}], "mark": {"type": "text", "align": "left", "baseline": "middle", "fontSize": 12.4, "color": "#000000", "font": "DejaVu Sans"},
 "encoding": {"x": {"field": "c", "type": "quantitative", "scale": {"domain": [0, 60], "range": [631, 991], "nice": false, "zero": false}, "axis": null},
  "y": {"field": "r", "type": "quantitative", "scale": {"domain": [0, 45], "range": [9.4, 639.4], "nice": false, "zero": false}, "axis": null}, "text": {"field": "t"}}},
{"data": {"name": "right"}, "transform": [{"filter": "datum.part === 'title'"}], "mark": {"type": "text", "align": "left", "baseline": "middle", "fontSize": 11.7, "fontWeight": "bold", "color": "#000000", "font": "DejaVu Sans"},
 "encoding": {"x": {"field": "c", "type": "quantitative", "scale": {"domain": [0, 60], "range": [631, 991], "nice": false, "zero": false}, "axis": null},
  "y": {"field": "r", "type": "quantitative", "scale": {"domain": [0, 45], "range": [9.4, 639.4], "nice": false, "zero": false}, "axis": null}, "text": {"field": "t"}}},
{"data": {"name": "right"}, "transform": [{"filter": "datum.part === 'quote'"}], "mark": {"type": "text", "align": "left", "baseline": "middle", "fontSize": 11, "fontStyle": "italic", "color": "#000000", "font": "DejaVu Sans"},
 "encoding": {"x": {"field": "c", "type": "quantitative", "scale": {"domain": [0, 60], "range": [631, 991], "nice": false, "zero": false}, "axis": null},
  "y": {"field": "r", "type": "quantitative", "scale": {"domain": [0, 45], "range": [9.4, 639.4], "nice": false, "zero": false}, "axis": null}, "text": {"field": "t"}}},
{"data": {"name": "left"}, "mark": {"type": "text", "align": "left", "baseline": "middle", "fontSize": 11.2, "font": "DejaVu Sans"},
 "encoding": {"x": {"field": "c", "type": "quantitative", "scale": {"domain": [0, 60], "range": [5, 365], "nice": false, "zero": false}, "axis": null},
  "y": {"field": "r", "type": "quantitative", "scale": {"domain": [0, 45], "range": [4, 634], "nice": false, "zero": false}, "axis": null},
  "text": {"field": "t"},
  "color": {"field": "part", "type": "nominal", "scale": {"domain": ["body", "buy", "sell"], "range": ["#000000", "#22dd22", "#ff0000"]}, "legend": null}}}
],
"resolve": {"scale": {"x": "independent", "y": "independent", "color": "independent"}}
}
